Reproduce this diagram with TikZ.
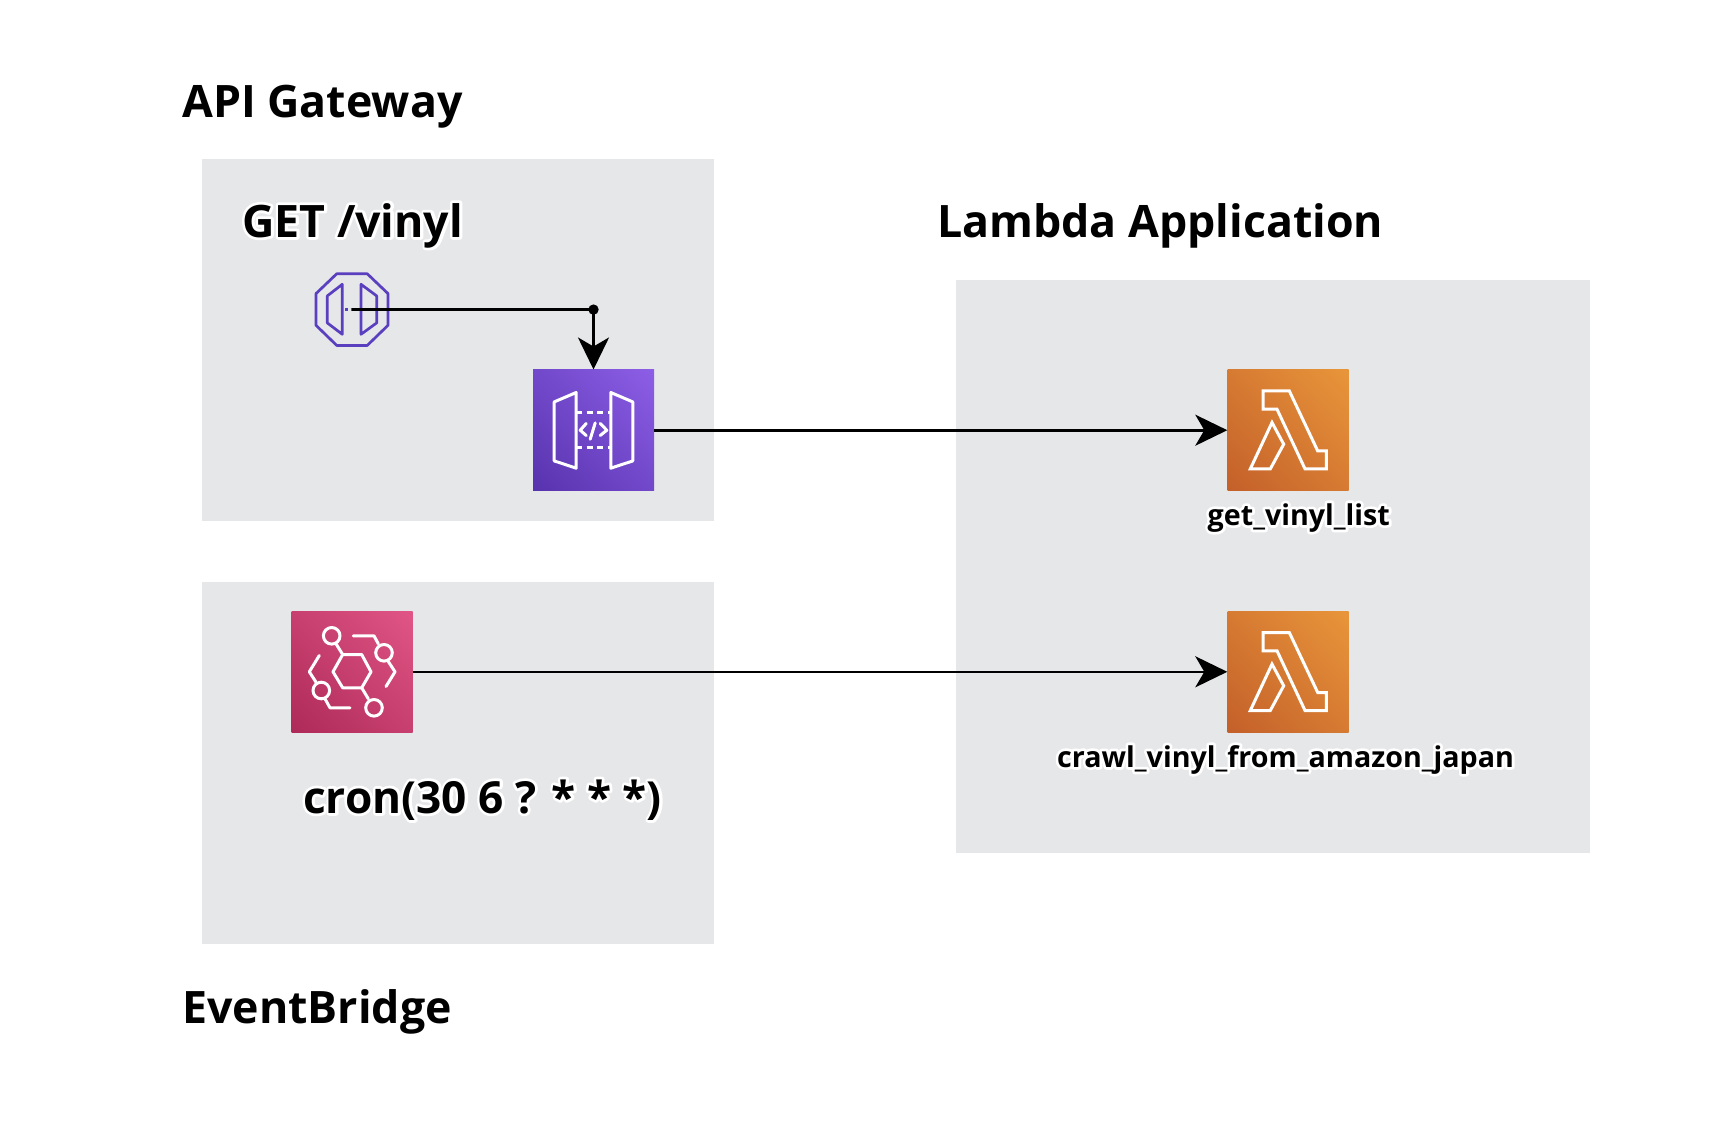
\documentclass[tikz,border=0pt]{standalone}
\usepackage{fontspec}
\setmainfont{Open Sans}[BoldFont={Open Sans Bold}]
\usetikzlibrary{arrows.meta}
\definecolor{panel}{HTML}{E6E7E9}
\definecolor{octa}{HTML}{5A3FBF}
\newcommand\diagshade[3]{%
 \pgfdeclarehorizontalshading{#1}{100bp}{color(0bp)=(#2);color(15bp)=(#2);color(85bp)=(#3);color(100bp)=(#3)}}
\definecolor{va}{HTML}{5833AE}
\definecolor{vb}{HTML}{8C5EE6}
\definecolor{pa}{HTML}{AE2A58}
\definecolor{pb}{HTML}{E05585}
\definecolor{oa}{HTML}{C4602A}
\definecolor{ob}{HTML}{E8953A}
\diagshade{apigrad}{va}{vb}
\diagshade{ebgrad}{pa}{pb}
\diagshade{lamgrad}{oa}{ob}
\newcommand\halo[1]{\leavevmode\rlap{\special{pdf:code q 1 1 1 RG 5.5 w 1 Tr 1 j}#1\special{pdf:code Q}}#1}
\tikzset{
 x=1pt,y=-1pt,
 head/.style={font=\bfseries\fontsize{44.7}{50}\selectfont,text=black,inner sep=0pt,anchor=base west},
 small/.style={font=\bfseries\fontsize{28.65}{34}\selectfont,text=black,inner sep=0pt,anchor=base west},
 wire/.style={draw=black,line width=2.6pt},
 tip/.style={-{Stealth[length=32pt,width=31pt,inset=9pt]}},
 iconline/.style={draw=white,line width=3pt,line join=round,line cap=round},
 iconbox/.style={minimum size=121pt,inner sep=0pt,draw=none},
}
\begin{document}
\begin{tikzpicture}
\useasboundingbox (0,0) rectangle (1734,1122);
\path[fill=white] (0,0) rectangle (1734,1122);
\fill[panel] (202,159.3) rectangle (713.7,521.2);
\fill[panel] (202,582) rectangle (713.7,943.9);
\fill[panel] (956,280) rectangle (1590,852.5);

\node[head] (title1) at (182,117) {API Gateway};
\node[head] (title2) at (242,237) {\halo{GET /vinyl}};
\node[head] (title3) at (937,237.5) {Lambda Application};
\node[head] (title4) at (182,1023) {EventBridge};
\node[head,font=\bfseries\fontsize{44.2}{50}\selectfont] (cron) at (303,813) {\halo{cron(30 6 ? * * *)}};
\node[small] (lab1) at (1207.5,525) {\halo{get\_vinyl\_list}};
\node[small] (lab2) at (1057,767) {\halo{crawl\_vinyl\_from\_amazon\_japan}};

% endpoint octagon
\coordinate (oc) at (352,309.6);
\begin{scope}[shift={(oc)},draw=octa,line width=2.7pt,line join=round]
 \draw (-15.3,-35.8) -- (15.3,-35.8) -- (36,-16) -- (36,15.7) -- (15.3,35.8) -- (-15.3,35.8) -- (-36,15.7) -- (-36,-16) -- cycle;
 \draw (-9.7,-25.3) -- (-24.7,-13.7) -- (-24.7,13.3) -- (-9.7,24.7) -- cycle;
 \draw (9,-25.3) -- (24.7,-13.7) -- (24.7,13.3) -- (9,24.7) -- cycle;
 \draw[dash pattern=on 3pt off 2.5pt] (-7,0) -- (8,0);
\end{scope}

% API Gateway icon
\node[iconbox,shading=apigrad,shading angle=45] (api) at (593.5,430.2) {};
\begin{scope}[shift={(api.center)},iconline]
 \draw (-17.3,-37.7) -- (-39.3,-28.3) -- (-39.3,30.7) -- (-17.3,38) -- cycle;
 \draw (17.3,-37.7) -- (39.3,-28.3) -- (39.3,30.7) -- (17.3,38) -- cycle;
 \draw[line cap=butt,dash pattern=on 6pt off 4.5pt] (-17.3,-18) -- (17.3,-18);
 \draw[line cap=butt,dash pattern=on 6pt off 4.5pt] (-17.3,17.7) -- (17.3,17.7);
 \draw (-7.3,-6.7) -- (-13.3,0) -- (-7.3,5.3);
 \draw (6.7,-6.7) -- (13.3,0) -- (6.7,5.3);
 \draw (1.7,-7.3) -- (-3.3,9);
\end{scope}

% EventBridge icon
\node[iconbox,shading=ebgrad,shading angle=45] (eb) at (352,671.8) {};
\begin{scope}[shift={(eb.center)},iconline]
 \draw (-9.3,-17.3) -- (9.7,-17.3) -- (19,0) -- (9.7,16) -- (-9.3,16) -- (-19,0) -- cycle;
 \draw (-20.3,-36) circle (8.3);
 \draw (32,-19) circle (8.3);
 \draw (-30.7,18.7) circle (8.3);
 \draw (22,36) circle (8.3);
 \draw (-9.3,-17.3) -- (-16,-28);
 \draw (9.7,16) -- (16.3,27);
 \draw (1.3,-36) -- (22,-36) -- (26.3,-28);
 \draw (36.3,-10.3) -- (43,0) -- (34,14.7);
 \draw (-32.7,-16.3) -- (-42.7,0) -- (-36,10.3);
 \draw (-27,27) -- (-22,36) -- (-2,36);
\end{scope}

% Lambda icons
\node[iconbox,shading=lamgrad,shading angle=45] (l1) at (1288,430.2) {};
\node[iconbox,shading=lamgrad,shading angle=45] (l2) at (1288,671.8) {};
\foreach \n in {l1,l2}{
\begin{scope}[shift={(\n.center)},iconline,line join=miter]
 \draw (-25,-39.3) -- (1.3,-39.3) -- (29.7,20.7) -- (38.3,20.7) -- (38.3,38.7) -- (17,38.7) -- (-11,-21) -- (-25,-21) -- cycle;
 \draw (-16,-7.7) -- (-4.3,14) -- (-17.7,38.7) -- (-37.7,38.7) -- cycle;
\end{scope}}

% connectors
\coordinate (dot) at (593.5,309.6);
\fill (dot) circle (5.2);
\draw[wire] (oc) -- (dot);
\draw[wire,tip] (dot) -- (api.north);
\draw[wire,tip] (api.east) -- (l1.west);
\draw[wire,tip] (eb.east) -- (l2.west);
\end{tikzpicture}
\end{document}
